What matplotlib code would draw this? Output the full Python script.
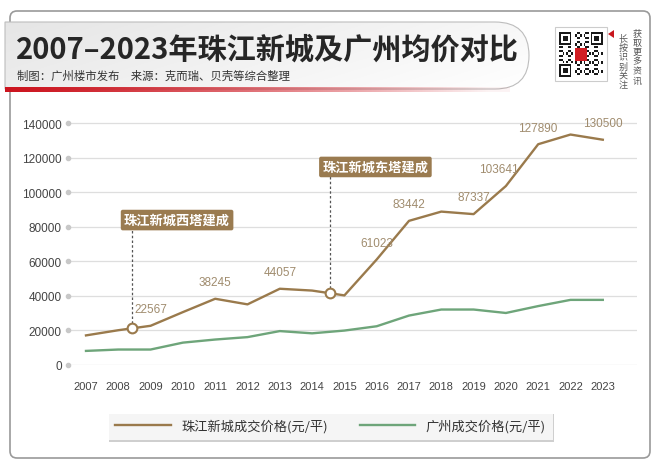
import numpy as np
import matplotlib.pyplot as plt
from matplotlib.path import Path
from matplotlib.patches import PathPatch, FancyBboxPatch, Rectangle, Polygon
import matplotlib.patheffects as pe

plt.rcParams['font.family'] = ['Liberation Sans', 'Noto Sans CJK SC']
CJK = ['Noto Sans CJK SC', 'DejaVu Sans']

# 数据
years = list(range(2007, 2024))
zjxc_price = [17000, 20000, 22567, 30500, 38245, 35000, 44057, 43000, 40200,
              61023, 83442, 88800, 87337, 103641, 127890, 133500, 130500]
gz_price = [8000, 8800, 8800, 12800, 14600, 16000, 19500, 18200, 19800,
            22300, 28500, 32000, 32000, 30000, 34000, 37600, 37600]
labeled_years = [2009, 2011, 2013, 2016, 2017, 2019, 2020, 2021, 2023]
event_names = ['珠江新城西塔建成', '珠江新城东塔建成']
event_x = [2008.43, 2014.55]
event_box_x = [2009.82, 2015.96]
event_box_y = [83900, 114700]

title = '2007–2023年珠江新城及广州均价对比'
subtitle = '制图：广州楼市发布　来源：克而瑞、贝壳等综合整理'
legend_labels = ['珠江新城成交价格(元/平)', '广州成交价格(元/平)']

brown = '#9a7a4c'
green = '#6ea57a'

fig = plt.figure(figsize=(6.6, 4.77), dpi=100)
fig.patch.set_facecolor('white')

# 背景层（像素坐标）
bg = fig.add_axes([0, 0, 1, 1], zorder=-1)
bg.set_xlim(0, 660)
bg.set_ylim(477, 0)
bg.axis('off')

bg.add_patch(FancyBboxPatch((10, 12), 640, 447, boxstyle='round,pad=0,rounding_size=7',
                            fc='white', ec='#9a9a9a', lw=1.2))

# 标题条
verts = [(5, 23), (495, 23), (529, 23), (529, 56.5), (529, 90), (495, 90), (5, 90), (5, 23)]
codes = [Path.MOVETO, Path.LINETO, Path.CURVE3, Path.CURVE3, Path.CURVE3, Path.CURVE3,
         Path.LINETO, Path.CLOSEPOLY]
banner = PathPatch(Path(verts, codes), fc='none', ec='#bdbdbd', lw=0.8, zorder=3)
bg.add_patch(banner)
gx = np.linspace(0, 1, 200)
gy = np.linspace(0, 1, 60)
gxx, gyy = np.meshgrid(gx, gy)
shade = 0.90 + 0.07 * gxx + 0.03 * gyy
grad = np.dstack([shade, shade, shade])
im = bg.imshow(grad, extent=[5, 529, 90, 23], aspect='auto', zorder=2, origin='upper')
im.set_clip_path(banner)

red = np.zeros((1, 300, 4))
red[..., 0] = 0.80
red[..., 1] = 0.08
red[..., 2] = 0.12
red[..., 3] = np.clip(1.0 - np.linspace(0, 1, 300) ** 1.3, 0.05, 1)
bg.imshow(red, extent=[5, 510, 93, 88], aspect='auto', zorder=4)

bg.text(16, 50, title, fontsize=21, fontweight='bold', family=CJK, color='#262626',
        va='center', ha='left', zorder=5)
bg.text(17, 76, subtitle, fontsize=8.2, family=CJK, color='#333333',
        va='center', ha='left', zorder=5)

# 二维码示意
bg.add_patch(Rectangle((555, 28), 52, 54, fc='white', ec='#cccccc', lw=0.8, zorder=2))
n = 25
ii, jj = np.meshgrid(np.arange(n), np.arange(n), indexing='ij')
qr = ((ii * 7 + jj * 11 + ii * jj) % 5 < 2).astype(float)
for (r0, c0) in [(0, 0), (0, n - 7), (n - 7, 0)]:
    qr[max(r0 - 1, 0):r0 + 8, max(c0 - 1, 0):c0 + 8] = 0
    qr[r0:r0 + 7, c0:c0 + 7] = 1
    qr[r0 + 1:r0 + 6, c0 + 1:c0 + 6] = 0
    qr[r0 + 2:r0 + 5, c0 + 2:c0 + 5] = 1
qr_rgb = np.dstack([1 - qr * 0.9] * 3)
qr_rgb[9:16, 9:16] = [0.82, 0.12, 0.14]
bg.imshow(qr_rgb, extent=[559, 603, 78, 33], aspect='auto', interpolation='nearest', zorder=3)
bg.add_patch(Polygon([(608, 35), (614, 31), (614, 39)], closed=True, fc='#c8161d', ec='none'))
for k, ch in enumerate('获取更多资讯'):
    bg.text(637, 34 + k * 9.4, ch, fontsize=6.5, family=CJK, color='#555555',
            ha='center', va='center')
for k, ch in enumerate('长按识别关注'):
    bg.text(623, 39 + k * 9.4, ch, fontsize=6.5, family=CJK, color='#555555',
            ha='center', va='center')
bg.set_xlim(0, 660)
bg.set_ylim(477, 0)

# 主图
ax = fig.add_axes([68 / 660, 1 - 365.7 / 477, (637 - 68) / 660, (365.7 - 107.1) / 477])
ax.patch.set_alpha(0)
ax.set_xlim(2006.443, 2024.059)
ax.set_ylim(0, 150000)
for s in ax.spines.values():
    s.set_visible(False)
yt = np.arange(0, 140001, 20000)
ax.set_yticks(yt)
ax.set_xticks(years)
ax.tick_params(axis='both', length=0, colors='#444444')
ax.tick_params(axis='y', labelsize=8.5, pad=4.5)
ax.tick_params(axis='x', labelsize=8, pad=12)
for y in yt:
    ax.axhline(y, color='#dedede', lw=0.9, zorder=0)
ax.scatter([ax.get_xlim()[0]] * len(yt), yt, s=9, color='#c8c8c8', clip_on=False, zorder=1)

l1, = ax.plot(years, zjxc_price, color=brown, lw=1.7, zorder=3)
l2, = ax.plot(years, gz_price, color=green, lw=1.7, zorder=3)

for yr in labeled_years:
    v = zjxc_price[years.index(yr)]
    dx = -5 if yr == 2020 else 0
    ax.annotate(str(v), (yr, v), xytext=(dx, 12), textcoords='offset points',
                ha='center', va='center', fontsize=8.5, color='#a08c6e', zorder=4)

for name, ex, bx, by in zip(event_names, event_x, event_box_x, event_box_y):
    ey = np.interp(ex, years, zjxc_price)
    ax.plot([ex, ex], [ey, by], color='#555555', lw=0.9, ls=(0, (2, 1.8)), zorder=2)
    ax.plot(ex, ey, 'o', ms=7, mfc='white', mec=brown, mew=1.5, zorder=5)
    ax.text(bx, by, name, fontsize=9.5, fontweight='bold', family=CJK, color='white',
            ha='center', va='center', zorder=6,
            bbox=dict(boxstyle='round,pad=0.25,rounding_size=0.15', fc='#9a7b50', ec='none'))

leg = fig.legend([l1, l2], legend_labels, loc='center', bbox_to_anchor=(330.5 / 660, 1 - 427 / 477),
                 ncol=2, handlelength=4.2, handletextpad=0.8, columnspacing=2.4,
                 borderpad=0.55, frameon=True, fancybox=False, prop={'family': CJK, 'size': 9.5})
fr = leg.get_frame()
fr.set_linewidth(0)
fr.set_facecolor('white')
fr.set_path_effects([pe.withSimplePatchShadow(offset=(0.5, -1.5), shadow_rgbFace='#777777', alpha=0.35)])
for t in leg.get_texts():
    t.set_color('#333333')

fig.savefig('out.png', dpi=100)
